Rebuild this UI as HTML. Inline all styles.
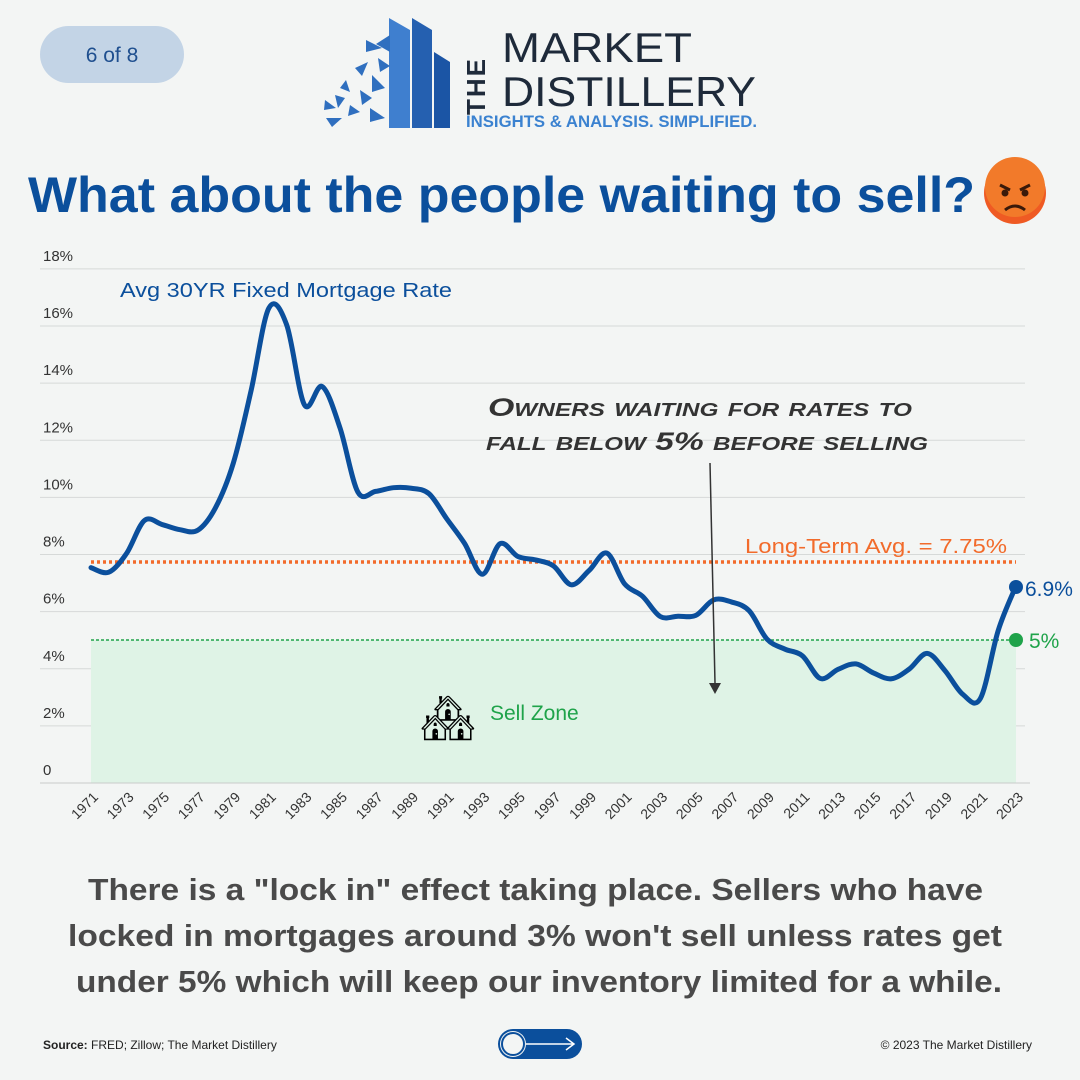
<!DOCTYPE html>
<html><head><meta charset="utf-8"><style>
html,body{margin:0;padding:0;background:#f3f5f4;}
svg{display:block}
text{font-family:"Liberation Sans",sans-serif}
</style></head><body>
<svg id="s" width="1080" height="1080" viewBox="0 0 1080 1080" xmlns="http://www.w3.org/2000/svg">
<rect width="1080" height="1080" fill="#f3f5f4"/>
<rect x="40" y="26" width="144" height="57" rx="28.5" fill="#c3d4e6"/>
<text x="112" y="62" font-size="21" fill="#1f4f8f" text-anchor="middle">6 of 8</text>
<g fill="#2f6fbf">
<polygon points="389,18 410,30 410,128 389,128" fill="#3f7fcf"/>
<polygon points="412,18 432,30 432,128 412,128" fill="#2560b0"/>
<polygon points="434,52 450,62 450,128 434,128" fill="#1b55a5"/>
<polygon points="390,35 376,44 390,52" /><polygon points="366,40 382,48 366,52"/>
<polygon points="355,68 368,62 362,76"/><polygon points="346,80 350,92 340,88"/>
<polygon points="372,75 385,88 372,92"/><polygon points="360,90 372,98 362,105"/>
<polygon points="335,95 345,98 338,108"/><polygon points="325,100 336,108 324,110"/>
<polygon points="350,105 360,112 348,116"/><polygon points="326,118 342,118 332,127"/>
<polygon points="370,108 385,118 370,122"/><polygon points="378,58 390,66 380,72"/>
</g>
<text x="0" y="0" font-size="26" fill="#1e2a3a" transform="translate(485,115) rotate(-90)" font-weight="bold" letter-spacing="2">THE</text>
<text x="502" y="62" font-size="42" fill="#1e2a3a" textLength="190" lengthAdjust="spacingAndGlyphs">MARKET</text>
<text x="502" y="106" font-size="42" fill="#1e2a3a" textLength="254" lengthAdjust="spacingAndGlyphs">DISTILLERY</text>
<text x="466" y="127" font-size="17" font-weight="bold" fill="#3b82d0" textLength="291" lengthAdjust="spacingAndGlyphs">INSIGHTS &amp; ANALYSIS. SIMPLIFIED.</text>
<text x="28" y="212" font-size="50" font-weight="bold" fill="#0b4f9c" textLength="947" lengthAdjust="spacingAndGlyphs">What about the people waiting to sell?</text>
<circle cx="1015" cy="193" r="31" fill="#ef5a23"/>
<circle cx="1015" cy="187" r="30" fill="#f27a2a"/>
<path d="M1000,185 l10,5 M1030,185 l-10,5" stroke="#3a1a0a" stroke-width="3"/>
<circle cx="1005" cy="193" r="3.5" fill="#3a1a0a"/><circle cx="1025" cy="193" r="3.5" fill="#3a1a0a"/>
<path d="M1005,210 q10,-8 20,0" stroke="#3a1a0a" stroke-width="3" fill="none"/>
<g id="grid" stroke="#d6d9d8" stroke-width="1"></g>
<rect x="91" y="640" width="925" height="143" fill="#dff3e6"/>
<line x1="91" y1="640" x2="1016" y2="640" stroke="#1fa34a" stroke-width="1.5" stroke-dasharray="3,2"/>
<line x1="91" y1="562" x2="1016" y2="562" stroke="#f26b2b" stroke-width="3.5" stroke-dasharray="3,3"/>
<line x1="40" y1="783" x2="1030" y2="783" stroke="#c8cbca"/>
<g id="ylab" font-size="15" fill="#333"></g>
<g id="xlab" font-size="14" fill="#333"></g>
<path id="line" fill="none" stroke="#0b4f9c" stroke-width="5" stroke-linejoin="round" stroke-linecap="round"/>
<circle cx="1016" cy="587" r="7" fill="#0b4f9c"/>
<circle cx="1016" cy="640" r="7" fill="#1fa34a"/>
<text x="1025" y="596" font-size="21" fill="#0b4f9c">6.9%</text>
<text x="1029" y="648" font-size="21" fill="#1fa34a">5%</text>
<text x="745" y="553" font-size="20" fill="#f26b2b" textLength="262" lengthAdjust="spacingAndGlyphs">Long-Term Avg. = 7.75%</text>
<text x="120" y="297" font-size="20" fill="#0b4f9c" textLength="332" lengthAdjust="spacingAndGlyphs">Avg 30YR Fixed Mortgage Rate</text>
<text x="490" y="720" font-size="21" fill="#1fa34a">Sell Zone</text>
<text x="420" y="733" font-size="44">🏘</text>
<text x="488" y="416" font-size="25" font-style="italic" font-weight="bold" fill="#333" font-variant="small-caps" textLength="424" lengthAdjust="spacingAndGlyphs">Owners waiting for rates to</text>
<text x="486" y="450" font-size="25" font-style="italic" font-weight="bold" fill="#333" font-variant="small-caps" textLength="442" lengthAdjust="spacingAndGlyphs">fall below 5% before selling</text>
<line x1="710" y1="463" x2="715" y2="683" stroke="#333" stroke-width="1.5"/>
<polygon points="709,683 721,683 715,694" fill="#333"/>
<g font-size="31" font-weight="bold" fill="#4a4a4a">
<text x="88" y="900" textLength="895" lengthAdjust="spacingAndGlyphs">There is a "lock in" effect taking place. Sellers who have</text>
<text x="68" y="946" textLength="934" lengthAdjust="spacingAndGlyphs">locked in mortgages around 3% won't sell unless rates get</text>
<text x="76" y="992" textLength="926" lengthAdjust="spacingAndGlyphs">under 5% which will keep our inventory limited for a while.</text>
</g>
<text x="43" y="1049" font-size="12" fill="#222"><tspan font-weight="bold">Source:</tspan> FRED; Zillow; The Market Distillery</text>
<text x="1032" y="1049" font-size="12" fill="#222" text-anchor="end">© 2023 The Market Distillery</text>
<rect x="498" y="1029" width="84" height="30" rx="15" fill="#0b4f9c"/>
<circle cx="513" cy="1044" r="13" fill="#f3f5f4"/>
<circle cx="513" cy="1044" r="11" fill="none" stroke="#0b4f9c" stroke-width="2"/>
<path d="M526,1044 h48 m-8,-6 l8,6 l-8,6" stroke="#fff" stroke-width="1.5" fill="none"/>
</svg>
<script>
var d=[7.54,7.38,8.04,9.19,9.05,8.87,8.85,9.64,11.2,13.74,16.63,16.04,13.24,13.88,12.43,10.19,10.21,10.34,10.32,10.13,9.25,8.39,7.31,8.38,7.93,7.81,7.6,6.94,7.44,8.05,6.97,6.54,5.83,5.84,5.87,6.41,6.34,6.03,5.04,4.69,4.45,3.66,3.98,4.17,3.85,3.65,3.99,4.54,3.94,3.11,2.96,5.34,6.9];
function X(i){return 91+i*925/52}function Y(v){return 783-v*28.56}
var ns="http://www.w3.org/2000/svg";
var g=document.getElementById('grid'),yl=document.getElementById('ylab'),xl=document.getElementById('xlab');
for(var k=0;k<=9;k++){var y=Y(k*2);if(k>0){var l=document.createElementNS(ns,'line');l.setAttribute('x1',40);l.setAttribute('x2',1025);l.setAttribute('y1',y);l.setAttribute('y2',y);g.appendChild(l);}
var t=document.createElementNS(ns,'text');t.setAttribute('x',43);t.setAttribute('y',y-8);t.textContent=k==0?'0':(k*2)+'%';yl.appendChild(t);}
for(var i=0;i<=52;i+=2){var t=document.createElementNS(ns,'text');var x=X(i);t.setAttribute('transform','translate('+(x+8)+',798) rotate(-45)');t.setAttribute('text-anchor','end');t.textContent=1971+i;xl.appendChild(t);}
var p=d.map(function(v,i){return [X(i),Y(v)]});var s='M'+p[0][0]+','+p[0][1];
for(var i=0;i<p.length-1;i++){var a=p[i-1]||p[i],b=p[i],c=p[i+1],e=p[i+2]||c;
s+=' C'+(b[0]+(c[0]-a[0])/6)+','+(b[1]+(c[1]-a[1])/6)+' '+(c[0]-(e[0]-b[0])/6)+','+(c[1]-(e[1]-b[1])/6)+' '+c[0]+','+c[1];}
document.getElementById('line').setAttribute('d',s);
</script>
</body></html>
